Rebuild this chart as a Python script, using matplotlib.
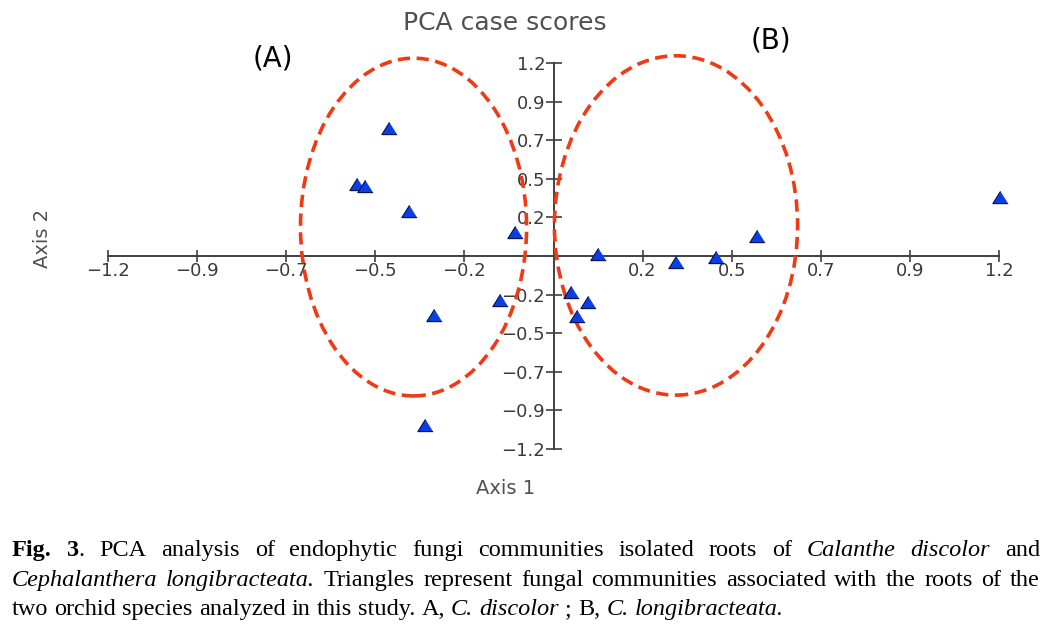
import matplotlib
matplotlib.use("Agg")
import matplotlib.pyplot as plt
from matplotlib.patches import Ellipse

# PCA case scores
axis1_scores = [-0.444, -0.528, -0.509, -0.388, -0.105, -0.143, -0.323, -0.347,
                0.046, 0.094, 0.062, 0.121, 0.329, 0.439, 0.549, 1.204]
axis2_scores = [0.796, 0.448, 0.435, 0.280, 0.149, -0.274, -0.367, -1.051,
                -0.224, -0.286, -0.373, 0.012, -0.037, -0.006, 0.124, 0.367]

# dashed group outlines: (A) C. discolor, (B) C. longibracteata
group_names = ["(A)", "(B)"]
group_cx = [-0.377, 0.330]
group_cy = [0.180, 0.190]
group_w = [0.609, 0.655]
group_h = [2.10, 2.11]

x_ticks = [-1.2, -0.96, -0.72, -0.48, -0.24, 0.24, 0.48, 0.72, 0.96, 1.2]
x_tick_labels = ["−1.2", "−0.9", "−0.7", "−0.5", "−0.2", "0.2", "0.5", "0.7", "0.9", "1.2"]
y_ticks = [1.2, 0.96, 0.72, 0.48, 0.24, -0.24, -0.48, -0.72, -0.96, -1.2]
y_tick_labels = ["1.2", "0.9", "0.7", "0.5", "0.2", "−0.2", "−0.5", "−0.7", "−0.9", "−1.2"]

# caption, one list of (text, style) runs per printed line
caption_lines = [
    [("Fig. 3", "b"), (". PCA analysis of endophytic fungi communities isolated roots of ", "r"),
     ("Calanthe discolor", "i"), (" and", "r")],
    [("Cephalanthera longibracteata.", "i"),
     (" Triangles represent fungal communities associated with the roots of the", "r")],
    [("two orchid species analyzed in this study. A, ", "r"), ("C. discolor", "i"),
     (" ; B, ", "r"), ("C. longibracteata.", "i")],
]
caption_justified = [True, True, False]

W, H = 1053, 633
fig = plt.figure(figsize=(W / 100, H / 100), dpi=100)
ax = fig.add_axes([108 / W, 1 - 449 / H, (999 - 108) / W, (449 - 63) / H])
ax.set_xlim(-1.2, 1.2)
ax.set_ylim(-1.2, 1.2)

axis_col = "#404040"
for side in ["top", "right"]:
    ax.spines[side].set_visible(False)
for side in ["left", "bottom"]:
    ax.spines[side].set_position(("data", 0))
    ax.spines[side].set_color(axis_col)
    ax.spines[side].set_linewidth(1.4)

ax.set_xticks(x_ticks)
ax.set_xticklabels(x_tick_labels)
ax.set_yticks(y_ticks)
ax.set_yticklabels(y_tick_labels)
ax.tick_params(axis="x", direction="inout", length=9, width=1.2, color=axis_col,
               labelsize=13, labelcolor="#3a3a3a", pad=0)
ax.tick_params(axis="y", direction="inout", length=12, width=1.2, color=axis_col,
               labelsize=13, labelcolor="#3a3a3a", pad=0)

for cx, cy, w, h in zip(group_cx, group_cy, group_w, group_h):
    ax.add_patch(Ellipse((cx, cy), w, h, fill=False, edgecolor="#f03a14",
                         linewidth=2.6, linestyle=(0, (3.4, 1.8)), clip_on=False, zorder=3))

tri = [(0, 0.8), (-1, -0.8), (1, -0.8)]
ax.scatter(axis1_scores, axis2_scores, marker=tri, s=11 ** 2, facecolor="#0c3ee6",
           edgecolor="#001050", linewidth=0.8, zorder=4, clip_on=False)

fig.text(505 / W, 1 - 23 / H, "PCA case scores", ha="center", va="center",
         fontsize=18, color="#505050")
fig.text(273 / W, 1 - 59 / H, group_names[0], ha="center", va="center", fontsize=20, color="black")
fig.text(771 / W, 1 - 41 / H, group_names[1], ha="center", va="center", fontsize=20, color="black")
fig.text(42 / W, 1 - 238 / H, "Axis 2", ha="center", va="center", rotation=90,
         fontsize=14, color="#505050")
fig.text(506 / W, 1 - 488 / H, "Axis 1", ha="center", va="center", fontsize=14, color="#505050")

# caption set word by word so lines can be justified
renderer = fig.canvas.get_renderer()
cap_size = 17.5
cap_font = "Liberation Serif"


def to_words(runs):
    words = [[]]
    for text, style in runs:
        parts = text.split(" ")
        for k, p in enumerate(parts):
            if k > 0:
                words.append([])
            if p:
                words[-1].append((p, style))
    return [w for w in words if w]


def make_text(s, style):
    return fig.text(0, 0, s, fontsize=cap_size, family=cap_font, va="baseline",
                    fontweight="bold" if style == "b" else "normal",
                    fontstyle="italic" if style == "i" else "normal", color="black")


space_t = make_text("a a", "r")
aa_t = make_text("aa", "r")
space_w = space_t.get_window_extent(renderer).width - aa_t.get_window_extent(renderer).width
space_t.remove()
aa_t.remove()

x_left, x_right = 12, 1040
baselines = [556, 586, 615]
for runs, just, base in zip(caption_lines, caption_justified, baselines):
    words = to_words(runs)
    placed = []
    total = 0
    for word in words:
        parts = []
        for s, style in word:
            t = make_text(s, style)
            wpx = t.get_window_extent(renderer).width
            parts.append((t, wpx))
            total += wpx
        placed.append(parts)
    gap = space_w
    if just and len(words) > 1:
        gap = (x_right - x_left - total) / (len(words) - 1)
    x = x_left
    for parts in placed:
        for t, wpx in parts:
            t.set_position((x / W, 1 - base / H))
            x += wpx
        x += gap

fig.savefig("out.png", dpi=100)
